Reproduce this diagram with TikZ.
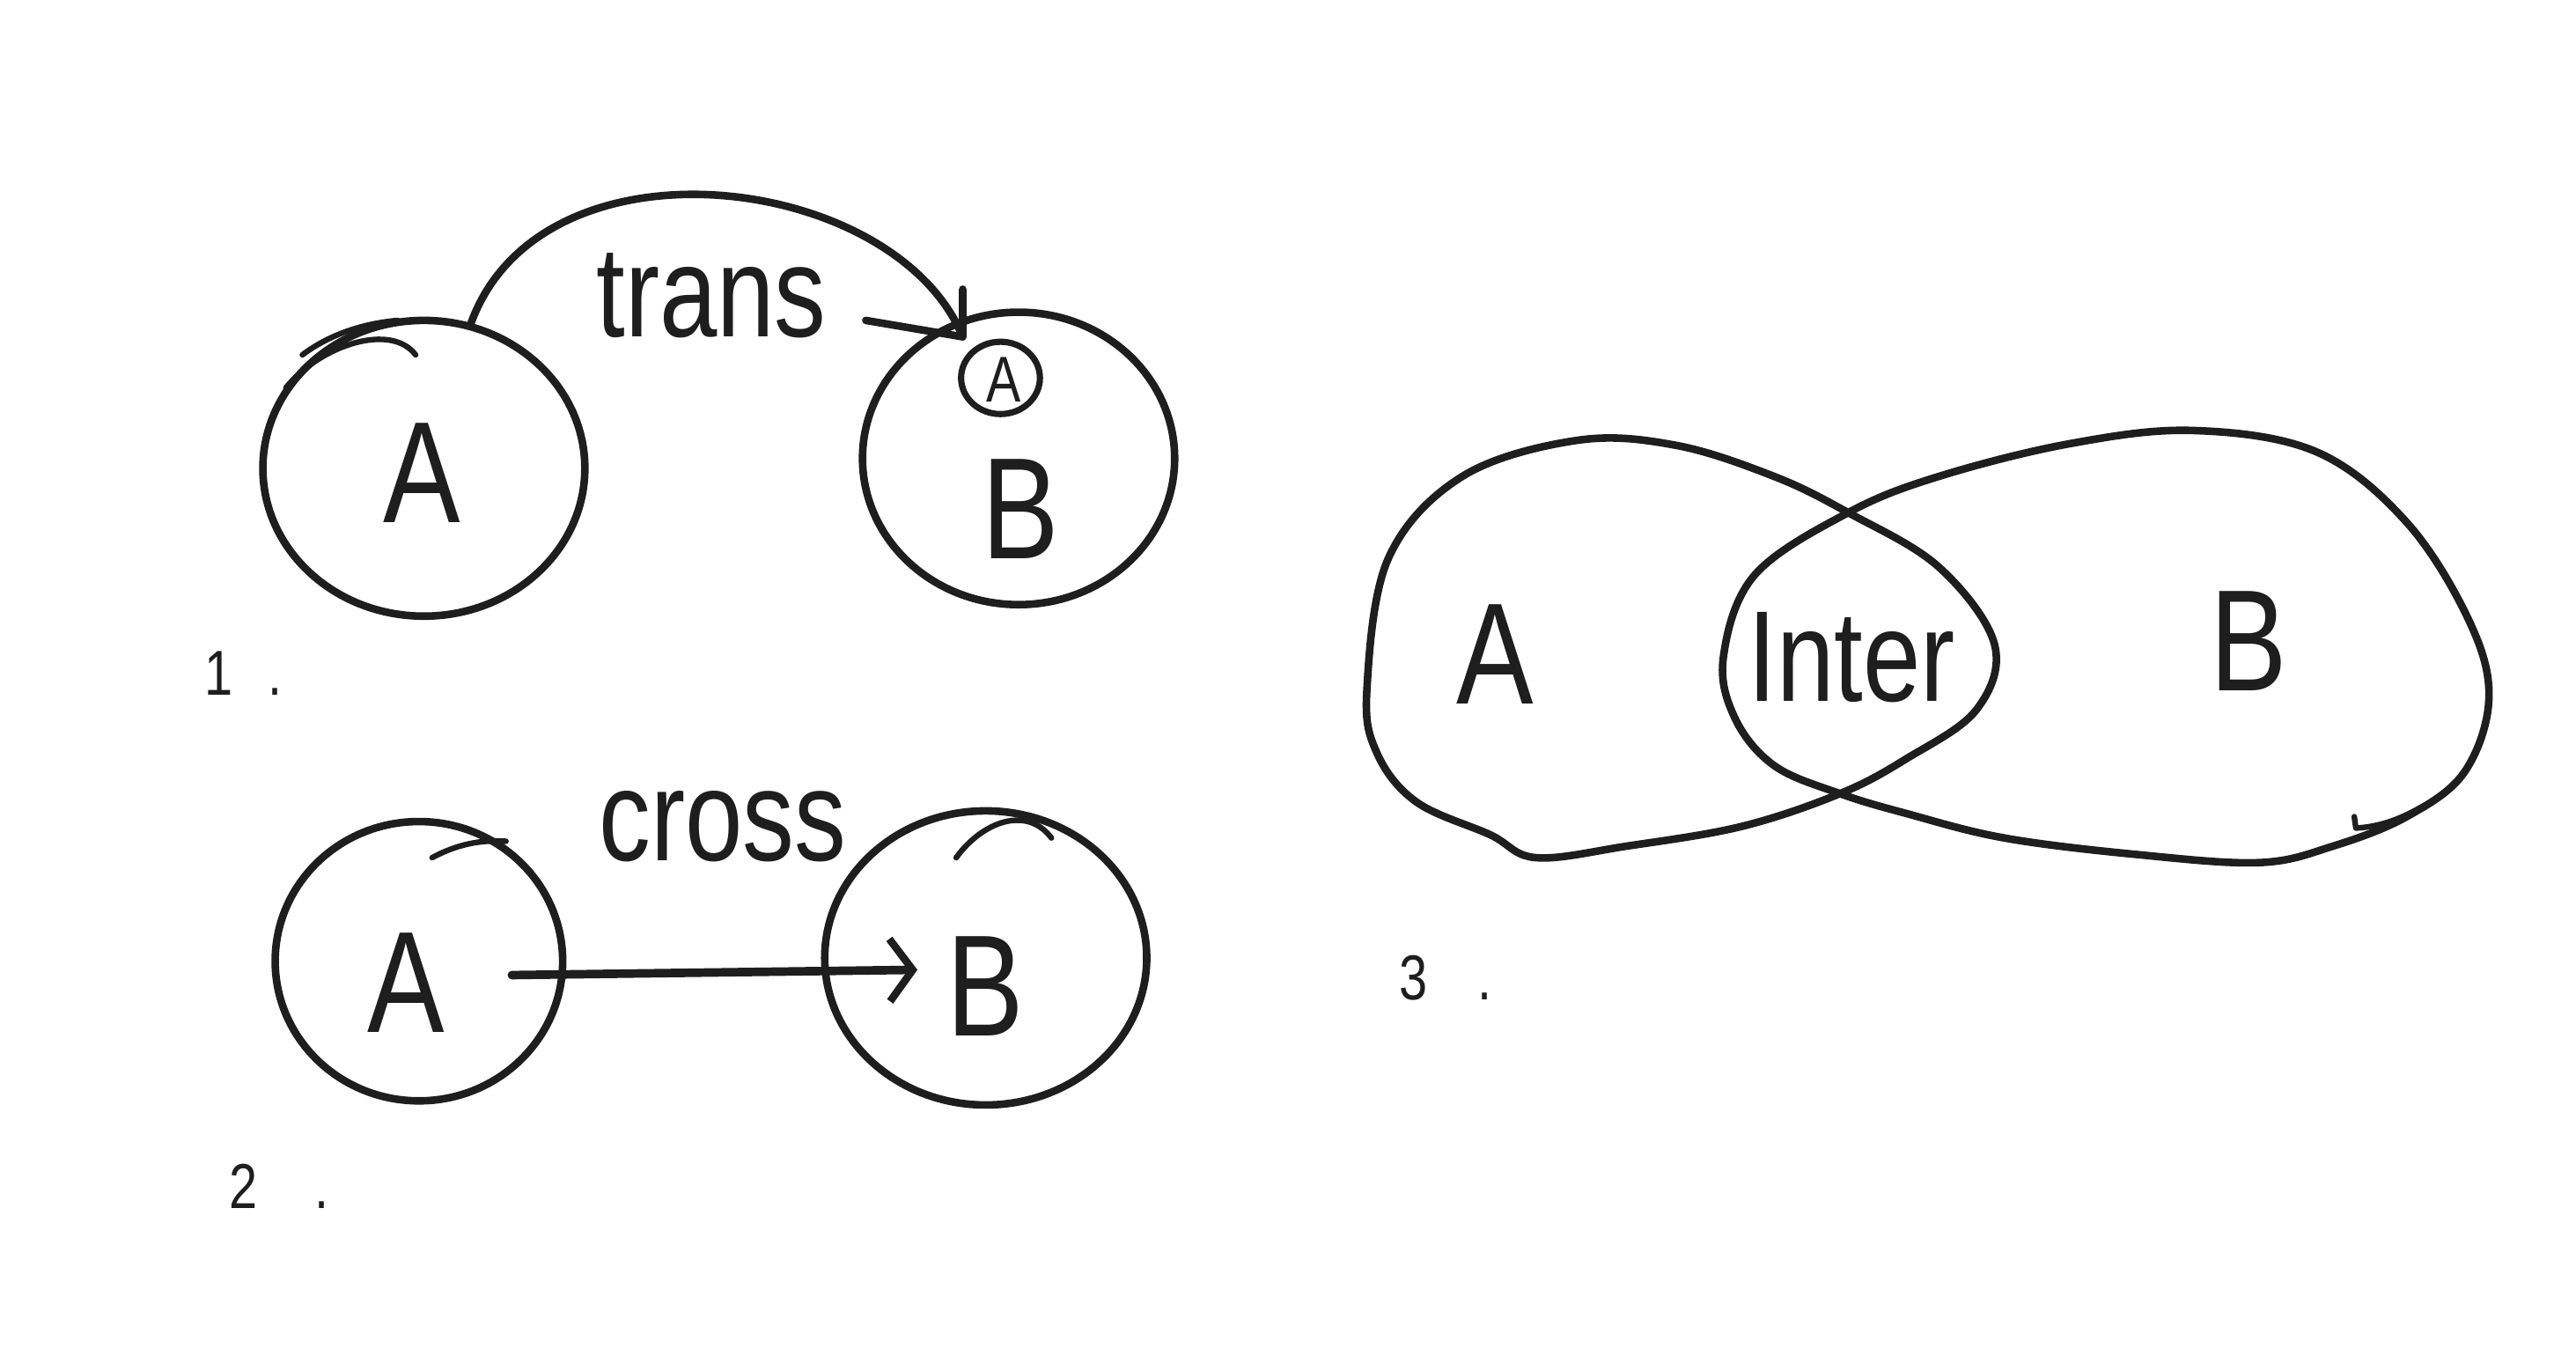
\documentclass[tikz,border=0pt]{standalone}
\usepackage{fontspec}
\setmainfont{Liberation Sans}[FakeStretch=0.8]
\usetikzlibrary{shapes.geometric,arrows.meta}
\definecolor{ink}{HTML}{1E1E1E}
\begin{document}
\begin{tikzpicture}[x=0.5mm,y=-0.5mm,
  blob/.style={ellipse,draw=ink,line width=2.3mm,inner sep=0pt},
  pen/.style={draw=ink,line width=2.3mm,line cap=round,line join=round},
  thin/.style={draw=ink,line width=1.7mm,line cap=round,line join=round},
  big/.style={text=ink,inner sep=0pt,font=\fontsize{125}{125}\selectfont},
  word/.style={text=ink,inner sep=0pt,font=\fontsize{112}{112}\selectfont},
  small/.style={text=ink,inner sep=0pt,font=\fontsize{56}{56}\selectfont},
  num/.style={text=ink,inner sep=0pt,font=\fontsize{55}{55}\selectfont}]
\fill[white] (0,0) rectangle (1568,829.5);
\useasboundingbox (0,0) rectangle (1568,829.5);

% ---------- diagram 1 ----------
\node[blob,minimum width=98mm,minimum height=90mm] (A1) at (258,285) {};
\node[blob,minimum width=95mm,minimum height=89mm] (B1) at (620,279) {};
\node[blob,minimum width=24mm,minimum height=22mm,line width=1.9mm] (sa) at (609,230) {};
\node[small] (saT) at (611,231) {A};
\node[big] (A1T) at (257,288) {A};
\node[big] (B1T) at (621,310) {B};
\node[word] (trans) at (433,180) {trans};
\node[num] (n1) at (148,410) {1\hspace{0.55em}.};
\coordinate (tip) at (586,205);
\coordinate (barbU) at (586,176);
\coordinate (barbL) at (527,195);
\draw[pen] (A1.72) .. controls (330,78) and (545,105) .. (tip);
\draw[pen] (barbU) -- (tip) -- (barbL);
\draw[thin] (184,216) .. controls (200,204) and (220,197) .. (242,195);
\draw[thin] (174,236) .. controls (195,210) and (238,196) .. (253,216);

% ---------- diagram 2 ----------
\node[blob,minimum width=87.5mm,minimum height=85mm] (A2) at (255,585) {};
\node[blob,minimum width=98mm,minimum height=89.5mm] (B2) at (600,583) {};
\node[big] (A2T) at (247,598) {A};
\node[big] (B2T) at (600,600) {B};
\node[word] (cross) at (440,503) {cross};
\node[num] (n2) at (170,722) {2\hspace{0.9em}.};
\draw[pen,line width=2.6mm,shorten <=20.5mm,shorten >=9mm,
  -{Straight Barb[length=7mm,width=19mm,line width=2.3mm]}]
  ([yshift=2mm]A2T.east) -- ([yshift=5mm]B2T.west);
\draw[thin] (263,522) .. controls (278,514) and (292,511) .. (308,512);
\draw[thin] (582,522) .. controls (598,500) and (625,490) .. (640,510);

% ---------- diagram 3 ----------
\draw[pen] plot[smooth cycle,tension=0.6] coordinates {
  (832,420) (845,340) (890,290) (960,268) (1020,271) (1080,290) (1125,312)
  (1180,345) (1214,392) (1203,432) (1160,462) (1120,483) (1060,503) (990,515)
  (935,522) (907,508) (862,488) (838,458)};
\draw[pen] plot[smooth cycle,tension=0.6] coordinates {
  (1049,400) (1068,350) (1125,312) (1180,290) (1260,270) (1335,262) (1410,275)
  (1465,318) (1503,378) (1515,425) (1500,470) (1465,497) (1420,515) (1375,525)
  (1300,520) (1220,510) (1160,495) (1120,483) (1080,466) (1056,437)};
\draw[thin] (1433,497) -- (1434,504) .. controls (1450,503) and (1462,498) .. (1476,490);
\node[big] (A3T) at (910,398) {A};
\node[word] (inter) at (1127,400) {Inter};
\node[big] (B3T) at (1369,390) {B};
\node[num] (n3) at (880,595) {3\hspace{0.8em}.};
\end{tikzpicture}
\end{document}
